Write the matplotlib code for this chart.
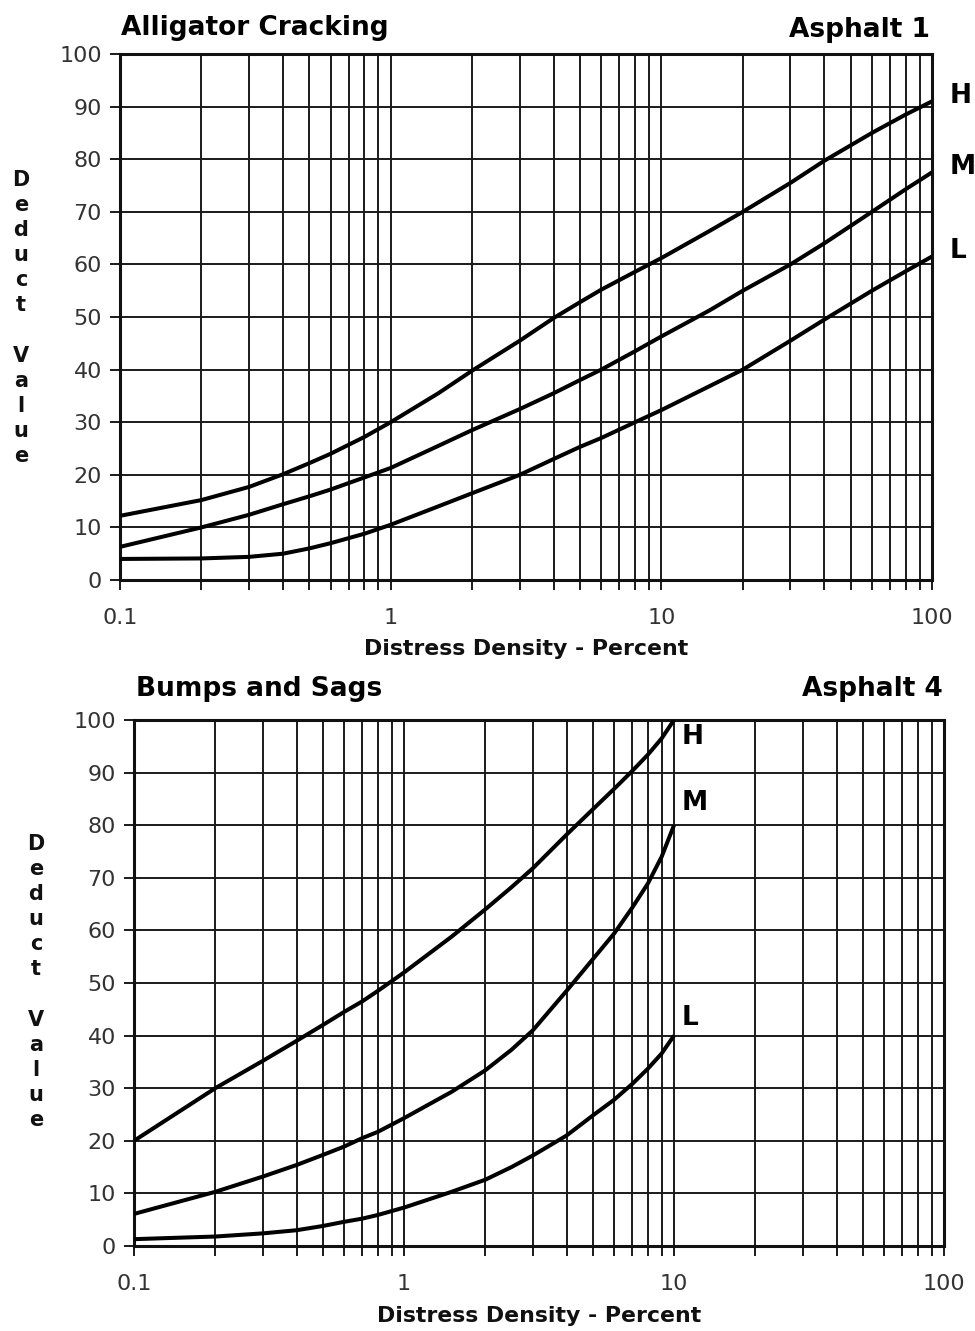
import numpy as np
import matplotlib
matplotlib.use("Agg")
import matplotlib.pyplot as plt
from matplotlib.ticker import LogLocator, NullFormatter, FixedLocator, FixedFormatter

# Alligator Cracking (Asphalt 1) - deduct value vs density
ac_x = [0.1, 0.2, 0.3, 0.4, 0.5, 0.6, 0.8, 1, 1.5, 2, 3, 4, 5, 6, 8, 10,
        15, 20, 30, 40, 60, 80, 100]
ac_high = [12.2, 15.2, 17.7, 20.1, 22.2, 24.0, 27.2, 30.0, 35.5, 39.8, 45.5, 49.8,
           52.8, 55.2, 58.6, 61.2, 66.3, 70.0, 75.5, 79.7, 85.0, 88.5, 91.0]
ac_med = [6.3, 10.0, 12.4, 14.4, 15.9, 17.2, 19.5, 21.3, 25.5, 28.5, 32.5, 35.5,
          38.0, 40.0, 43.5, 46.3, 51.2, 55.0, 60.0, 64.0, 70.0, 74.3, 77.5]
ac_low = [4.0, 4.1, 4.4, 5.0, 6.0, 7.0, 8.8, 10.5, 14.0, 16.5, 20.0, 23.0,
          25.3, 27.0, 30.0, 32.3, 36.8, 40.0, 45.5, 49.5, 55.0, 58.7, 61.5]

# Bumps and Sags (Asphalt 4)
bs_x = [0.1, 0.2, 0.3, 0.4, 0.5, 0.6, 0.7, 0.8, 1, 1.5, 2, 2.5, 3, 4, 5, 6, 7, 8, 9, 10]
bs_high = [20.0, 30.0, 35.2, 39.0, 42.0, 44.5, 46.5, 48.5, 52.0, 58.8, 64.0, 68.2, 71.8,
           78.2, 83.0, 86.9, 90.3, 93.4, 96.5, 100.0]
bs_med = [6.1, 10.3, 13.2, 15.4, 17.3, 18.9, 20.5, 21.7, 24.3, 29.3, 33.4, 37.3, 41.0,
          48.5, 54.5, 59.4, 64.3, 68.9, 74.0, 80.0]
bs_low = [1.3, 1.8, 2.4, 3.0, 3.8, 4.6, 5.2, 5.9, 7.3, 10.3, 12.6, 15.0, 17.2,
          21.0, 24.8, 27.8, 30.8, 33.7, 36.6, 40.0]

severity = ["H", "M", "L"]
y_ticks = list(range(0, 101, 10))
x_major = [0.1, 1, 10, 100]
x_major_labels = ["0.1", "1", "10", "100"]

W, H = 975, 1331
fig = plt.figure(figsize=(W / 100, H / 100), dpi=100)


def px(x, y):
    return x / W, 1 - y / H


def setup(ax):
    ax.set_xscale("log")
    ax.set_xlim(0.1, 100)
    ax.set_ylim(0, 100)
    ax.xaxis.set_major_locator(FixedLocator(x_major))
    ax.xaxis.set_major_formatter(FixedFormatter(x_major_labels))
    ax.xaxis.set_minor_locator(LogLocator(base=10, subs=np.arange(2, 10)))
    ax.xaxis.set_minor_formatter(NullFormatter())
    ax.set_yticks(y_ticks)
    ax.grid(True, which="both", axis="x", color="#1a1a1a", lw=1.4)
    ax.grid(True, which="major", axis="y", color="#1a1a1a", lw=1.4)
    ax.tick_params(axis="both", which="both", direction="out", length=7,
                   width=1.4, color="#1a1a1a", labelsize=16, labelcolor="#333333")
    ax.tick_params(axis="x", which="major", pad=13)
    ax.tick_params(axis="y", pad=6)
    for s in ax.spines.values():
        s.set_linewidth(2.2)
        s.set_color("#111111")
    ax.set_axisbelow(True)


def stacked_label(x, y):
    fig.text(*px(x, y), "D\ne\nd\nu\nc\nt\n\nV\na\nl\nu\ne", ha="center", va="center",
             fontsize=15, fontweight="bold", linespacing=1.32, color="#111111")


def draw_panel(rect, xs, curves, offsets, title, tag, title_xy, tag_xy, xlab_y, ylab_xy):
    ax = fig.add_axes(rect)
    setup(ax)
    for vals, name, off in zip(curves, severity, offsets):
        ax.plot(xs, vals, color="black", lw=2.9, solid_capstyle="butt",
                solid_joinstyle="round", zorder=3)
        ax.annotate(name, (xs[-1], vals[-1]), xytext=off, textcoords="offset pixels",
                    ha="left", va="center", fontsize=19, fontweight="bold",
                    annotation_clip=False)
    fig.text(*px(*title_xy), title, ha="left", va="baseline", fontsize=19, fontweight="bold")
    fig.text(*px(*tag_xy), tag, ha="right", va="baseline", fontsize=19, fontweight="bold")
    cx = rect[0] + rect[2] / 2
    fig.text(cx, 1 - xlab_y / H, "Distress Density - Percent", ha="center", va="baseline",
             fontsize=15.8, fontweight="bold", color="#111111")
    stacked_label(*ylab_xy)
    return ax


# top panel: Alligator Cracking
draw_panel([120 / W, 1 - 580 / H, 812 / W, 526 / H], ac_x,
           [ac_high, ac_med, ac_low], [(18, 5), (18, 5), (18, 6)],
           "Alligator Cracking", "Asphalt 1", (121, 35), (930, 37), 655, (21, 318))

# bottom panel: Bumps and Sags
draw_panel([134 / W, 1 - 1246 / H, 810 / W, 526 / H], bs_x,
           [bs_high, bs_med, bs_low], [(8, -17), (8, 22), (8, 18)],
           "Bumps and Sags", "Asphalt 4", (136, 696), (943, 696), 1322, (36, 982))

fig.savefig("out.png", dpi=100, facecolor="white")
